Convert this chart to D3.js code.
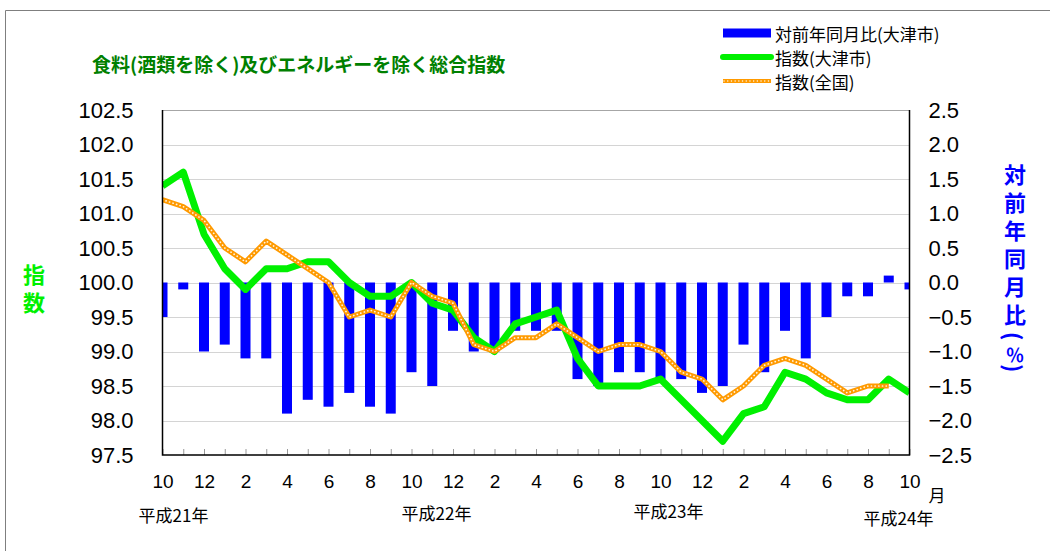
<!DOCTYPE html>
<html>
<head>
<meta charset="utf-8">
<script src="https://cdn.jsdelivr.net/npm/d3@7"></script>
<style>
  body { margin: 0; background: #fff; }
  svg { display: block; }
  .vtitle { writing-mode: vertical-rl; text-orientation: mixed; }
</style>
</head>
<body>
<svg id="chart" width="1050" height="551"></svg>
<script>
// month of each category, 平成21年10月 .. 平成24年10月
const months = [10, 11, 12, 1, 2, 3, 4, 5, 6, 7, 8, 9,
  10, 11, 12, 1, 2, 3, 4, 5, 6, 7, 8, 9,
  10, 11, 12, 1, 2, 3, 4, 5, 6, 7, 8, 9, 10];

// 対前年同月比(大津市) %
const yoyOtsu = [-0.5, -0.1, -1.0, -0.9, -1.1, -1.1, -1.9, -1.7, -1.8, -1.6, -1.8, -1.9,
  -1.3, -1.5, -0.7, -1.0, -1.0, -0.7, -0.7, -0.7, -1.4, -1.5, -1.3, -1.3,
  -1.4, -1.4, -1.6, -1.5, -0.9, -1.3, -0.7, -1.1, -0.5, -0.2, -0.2, 0.1, -0.1];

// 指数(大津市)
const indexOtsu = [101.4, 101.6, 100.7, 100.2, 99.9, 100.2, 100.2, 100.3, 100.3, 100.0, 99.8, 99.8,
  100.0, 99.7, 99.6, 99.2, 99.0, 99.4, 99.5, 99.6, 98.9, 98.5, 98.5, 98.5,
  98.6, 98.3, 98.0, 97.7, 98.1, 98.2, 98.7, 98.6, 98.4, 98.3, 98.3, 98.6, 98.4];

// 指数(全国) - no value yet for the last month
const indexJapan = [101.2, 101.1, 100.9, 100.5, 100.3, 100.6, 100.4, 100.2, 100.0, 99.5, 99.6, 99.5,
  100.0, 99.8, 99.7, 99.1, 99.0, 99.2, 99.2, 99.4, 99.2, 99.0, 99.1, 99.1,
  99.0, 98.7, 98.6, 98.3, 98.5, 98.8, 98.9, 98.8, 98.6, 98.4, 98.5, 98.5];

const leftTicks = [97.5, 98.0, 98.5, 99.0, 99.5, 100.0, 100.5, 101.0, 101.5, 102.0, 102.5];
const rightTicks = [-2.5, -2.0, -1.5, -1.0, -0.5, 0.0, 0.5, 1.0, 1.5, 2.0, 2.5];
const seriesNames = ["対前年同月比(大津市)", "指数(大津市)", "指数(全国)"];
const yearLabels = ["平成21年", "平成22年", "平成23年", "平成24年"];
const yearIndex = [0, 12, 24, 36];

const title = "食料(酒類を除く)及びエネルギーを除く総合指数";
const leftTitle = "指数";
const rightTitle = "対前年同月比(％)";

const numFont = "'Liberation Sans', Arial, sans-serif";
const jpFont = "'Noto Sans CJK JP', 'Noto Sans', sans-serif";
const blue = "#0000ff";
const green = "#00f000";
const orange = "#ff9a00";

const plot = { left: 162.5, right: 909.5, top: 110, bottom: 455 };

const svg = d3.select("#chart");

// outer frame (only top and left edges are visible)
svg.append("path")
  .attr("d", "M5.5,551V10.5H1050")
  .attr("fill", "none")
  .attr("stroke", "#7f7f7f");

const x = d3.scalePoint()
  .domain(d3.range(months.length))
  .range([plot.left, plot.right]);

const yLeft = d3.scaleLinear().domain([97.5, 102.5]).range([plot.bottom, plot.top]);
const yRight = d3.scaleLinear().domain([-2.5, 2.5]).range([plot.bottom, plot.top]);

// gridlines
svg.append("g")
  .selectAll("line")
  .data(leftTicks.slice(1, -1))
  .enter()
  .append("line")
  .attr("x1", plot.left)
  .attr("x2", plot.right)
  .attr("y1", (d) => Math.round(yLeft(d)) + 0.5)
  .attr("y2", (d) => Math.round(yLeft(d)) + 0.5)
  .attr("stroke", "#d4d4d4");

// top border of plot area
svg.append("line")
  .attr("x1", plot.left).attr("x2", plot.right)
  .attr("y1", plot.top + 0.5).attr("y2", plot.top + 0.5)
  .attr("stroke", "#a6a6a6");

svg.append("clipPath")
  .attr("id", "plot-clip")
  .append("rect")
  .attr("x", plot.left)
  .attr("y", plot.top - 5)
  .attr("width", plot.right - plot.left)
  .attr("height", plot.bottom - plot.top + 10);

const inner = svg.append("g").attr("clip-path", "url(#plot-clip)");

// bars
const barW = 10;
inner.append("g")
  .selectAll("rect")
  .data(yoyOtsu)
  .enter()
  .append("rect")
  .attr("x", (d, i) => x(i) - barW / 2)
  .attr("y", (d) => yRight(Math.max(0, d)))
  .attr("width", barW)
  .attr("height", (d) => Math.abs(yRight(d) - yRight(0)))
  .attr("fill", blue);

// lines
const indexLine = d3.line().x((d, i) => x(i)).y((d) => yLeft(d));

inner.append("path")
  .datum(indexOtsu)
  .attr("d", indexLine)
  .attr("fill", "none")
  .attr("stroke", green)
  .attr("stroke-width", 7)
  .attr("stroke-linejoin", "round");

inner.append("path")
  .datum(indexJapan)
  .attr("d", indexLine)
  .attr("fill", "none")
  .attr("stroke", orange)
  .attr("stroke-width", 5)
  .attr("stroke-linejoin", "round");

inner.append("path")
  .datum(indexJapan)
  .attr("d", indexLine)
  .attr("fill", "none")
  .attr("stroke", "#fff4e0")
  .attr("stroke-width", 1.7)
  .attr("stroke-dasharray", "0.1,3.6")
  .attr("stroke-linecap", "round");

// minor ticks on the category axis
svg.append("g")
  .attr("transform", `translate(0, ${plot.bottom})`)
  .call(d3.axisBottom(x).tickSize(-6).tickFormat(""))
  .call((g) => g.select(".domain").remove())
  .selectAll(".tick line")
  .attr("stroke", "#999");

// axis frame lines
svg.append("path")
  .attr("d", `M${plot.left},${plot.top}V${plot.bottom}H${plot.right}V${plot.top}`)
  .attr("fill", "none")
  .attr("stroke", "#000")
  .attr("stroke-width", 1.5);

// month labels
svg.append("g")
  .attr("transform", `translate(0, ${plot.bottom})`)
  .call(d3.axisBottom(x)
    .tickValues(x.domain().filter((i) => i % 2 === 0))
    .tickSize(0)
    .tickPadding(20)
    .tickFormat((i) => months[i]))
  .call((g) => g.select(".domain").remove())
  .selectAll("text")
  .attr("font-family", numFont)
  .attr("font-size", 19)
  .attr("fill", "#000");

svg.append("text")
  .attr("x", 937)
  .attr("y", 494)
  .attr("text-anchor", "middle")
  .attr("dominant-baseline", "central")
  .attr("font-family", jpFont)
  .attr("font-size", 17)
  .text("月");

// year labels under the axis
const yearOffset = [[11, 514], [25, 512], [8, 510], [-11, 517]];
svg.append("g")
  .selectAll("text")
  .data(yearLabels)
  .enter()
  .append("text")
  .attr("x", (d, k) => x(yearIndex[k]) + yearOffset[k][0])
  .attr("y", (d, k) => yearOffset[k][1])
  .attr("text-anchor", "middle")
  .attr("dominant-baseline", "central")
  .attr("font-family", jpFont)
  .attr("font-size", 17)
  .text((d) => d);

// left axis
svg.append("g")
  .attr("transform", `translate(${plot.left}, 0)`)
  .call(d3.axisLeft(yLeft).tickValues(leftTicks).tickSize(0).tickPadding(29)
    .tickFormat(d3.format(".1f")))
  .call((g) => g.select(".domain").remove())
  .selectAll("text")
  .attr("font-family", numFont)
  .attr("font-size", 22)
  .attr("fill", "#000");

// right axis
svg.append("g")
  .attr("transform", `translate(${plot.right}, 0)`)
  .call(d3.axisRight(yRight).tickValues(rightTicks).tickSize(0).tickPadding(19)
    .tickFormat(d3.format(".1f")))
  .call((g) => g.select(".domain").remove())
  .selectAll("text")
  .attr("font-family", numFont)
  .attr("font-size", 22)
  .attr("fill", "#000");

// title
svg.append("text")
  .attr("x", 92)
  .attr("y", 63)
  .attr("dominant-baseline", "central")
  .attr("font-family", jpFont)
  .attr("font-size", 19)
  .attr("font-weight", "bold")
  .attr("fill", "#008000")
  .text(title);

// vertical axis titles (vertical writing mode)
svg.append("text")
  .attr("class", "vtitle")
  .attr("x", 34)
  .attr("y", 264)
  .attr("font-family", jpFont)
  .attr("font-size", 22)
  .attr("font-weight", "bold")
  .attr("letter-spacing", 6)
  .attr("fill", green)
  .text(leftTitle);

const rTitle = svg.append("text")
  .attr("class", "vtitle")
  .attr("x", 1015)
  .attr("y", 164)
  .attr("font-family", jpFont)
  .attr("font-size", 22)
  .attr("font-weight", "bold")
  .attr("letter-spacing", 6)
  .attr("fill", blue);

rTitle.append("tspan").text(rightTitle.slice(0, 7));
rTitle.append("tspan").attr("font-size", 18).attr("letter-spacing", 0).text(rightTitle.slice(7, 8));
rTitle.append("tspan").text(rightTitle.slice(8));

// legend
const legend = svg.append("g").attr("transform", "translate(723, 0)");
const legendY = [33, 57, 81];

legend.append("rect")
  .attr("x", 0).attr("y", legendY[0] - 4.5)
  .attr("width", 48).attr("height", 9)
  .attr("fill", blue);

legend.append("line")
  .attr("x1", 0).attr("x2", 48)
  .attr("y1", legendY[1]).attr("y2", legendY[1])
  .attr("stroke", green).attr("stroke-width", 6)
  .attr("stroke-linecap", "round");

legend.append("line")
  .attr("x1", 0).attr("x2", 48)
  .attr("y1", legendY[2]).attr("y2", legendY[2])
  .attr("stroke", orange).attr("stroke-width", 4);

legend.append("line")
  .attr("x1", 1).attr("x2", 48)
  .attr("y1", legendY[2]).attr("y2", legendY[2])
  .attr("stroke", "#fff4e0").attr("stroke-width", 1.4)
  .attr("stroke-dasharray", "0.1,3.6")
  .attr("stroke-linecap", "round");

legend.selectAll("text.label")
  .data(seriesNames)
  .enter()
  .append("text")
  .attr("class", "label")
  .attr("x", 52)
  .attr("y", (d, k) => legendY[k])
  .attr("dominant-baseline", "central")
  .attr("font-family", jpFont)
  .attr("font-size", 17)
  .attr("fill", "#000")
  .text((d) => d);
</script>
</body>
</html>
